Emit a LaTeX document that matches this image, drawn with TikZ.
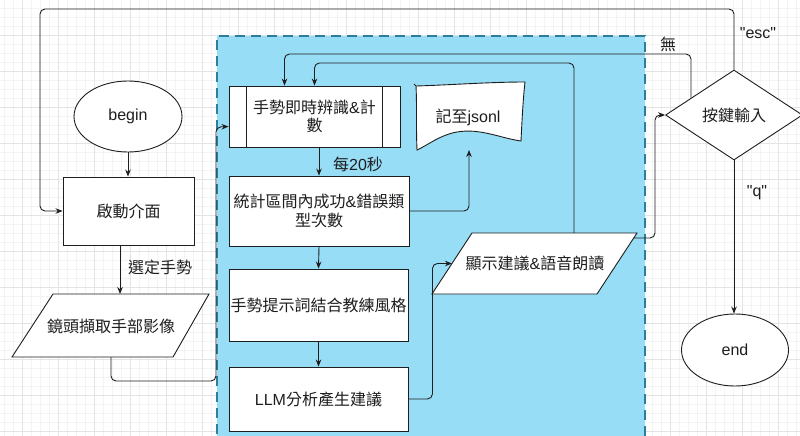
\documentclass[tikz,border=0pt]{standalone}
\usepackage{fontspec}
\setmainfont{Liberation Sans}
\newfontfamily\rawlat{Liberation Sans}
\newfontfamily\cjk{Noto Sans CJK TC}
\usetikzlibrary{arrows.meta,shapes.geometric,calc}
\definecolor{gridmaj}{RGB}{228,228,228}
\definecolor{gridmin}{RGB}{244,244,244}
\definecolor{bluebg}{RGB}{152,221,246}
\definecolor{blueedge}{RGB}{45,125,155}
\definecolor{ink}{RGB}{30,30,30}
\tikzset{
  txt/.style={text=ink, font=\fontsize{16}{18.5}\selectfont, inner sep=0pt, align=center},
  base/.style={txt, draw=ink, line width=0.9pt, fill=white},
  procbox/.style={base, rectangle, minimum width=#1},
  ovalnode/.style={base, ellipse, minimum width=108pt, minimum height=71pt},
  decide/.style={base, diamond, minimum width=137pt, minimum height=90pt},
  shapeline/.style={draw=ink, line width=0.9pt, fill=white},
  arr/.style={draw=ink, line width=0.9pt, -{Stealth[length=7pt,width=5.5pt]}, rounded corners=5pt},
  plainline/.style={draw=ink, line width=0.9pt},
  mingrid/.style={gridmin, line width=0.5pt},
  majgrid/.style={gridmaj, line width=0.6pt}
}
\begin{document}
\begin{tikzpicture}[x=1pt,y=-1pt]
\useasboundingbox (0,0) rectangle (800,436);
\begin{scope}
  \clip (0,0) rectangle (800,436);
  \fill[white] (0,0) rectangle (800,436);
  \foreach \i in {0,...,92} \draw[mingrid] ({-14+9*\i},0) -- ({-14+9*\i},436);
  \foreach \i in {0,...,50} \draw[mingrid] (0,{-1+9*\i}) -- (800,{-1+9*\i});
  \foreach \i in {0,...,23} \draw[majgrid] ({-14+36*\i},0) -- ({-14+36*\i},436);
  \foreach \i in {0,...,13} \draw[majgrid] (0,{-1+36*\i}) -- (800,{-1+36*\i});
  \fill[bluebg] (217,36) rectangle (645,450);
  \draw[blueedge, line width=2.6pt, dash pattern=on 10pt off 6pt] (217,450) -- (217,36) -- (645,36) -- (645,450);
\end{scope}

% left column
\node[ovalnode] (begin) at (128,116.5) {begin};
\node[procbox=131pt, minimum height=68pt] (start) at (128.5,211) {\cjk 啟動介面};
\coordinate (camTL) at (53,294);
\coordinate (camTR) at (209,294);
\coordinate (camBR) at (173,357);
\coordinate (camBL) at (12,357);
\draw[shapeline] (camTL) -- (camTR) -- (camBR) -- (camBL) -- cycle;
\node[txt] (cam) at (111,326) {\cjk 鏡頭擷取手部影像};
\coordinate (camB) at (111,357);

% middle column
\node[procbox=171pt, minimum height=61pt] (rec) at (314.5,116.5) {{\cjk 手勢即時辨識}\&{\cjk 計}\\{\cjk 數}};
\draw[plainline] ([xshift=18pt]rec.north west) -- ([xshift=18pt]rec.south west);
\draw[plainline] ([xshift=-18pt]rec.north east) -- ([xshift=-18pt]rec.south east);
\node[procbox=180pt, minimum height=70pt] (stat) at (319,211) {{\cjk 統計區間內成功}\&{\cjk 錯誤類}\\{\cjk 型次數}};
\node[procbox=179pt, minimum height=72pt] (prompt) at (318.5,305) {\cjk 手勢提示詞結合教練風格};
\node[procbox=179pt, minimum height=64pt] (llm) at (318.5,399) {LLM{\cjk 分析產生建議}};

% jsonl document shape
\draw[shapeline] (414,84) -- (416,86) .. controls (450,85) and (490,82) .. (525,82)
  .. controls (523,100) and (522,120) .. (521,141)
  .. controls (500,138) and (480,128) .. (457,132)
  .. controls (440,135) and (428,145) .. (417,150)
  .. controls (416,128) and (417,105) .. (416,86);
\node[txt] (jsonl) at (468,117) {{\cjk 記至}jsonl};
\coordinate (jin) at (469,150);

% display parallelogram
\coordinate (dTL) at (472,233);
\coordinate (dTR) at (637,233);
\coordinate (dBR) at (597,294);
\coordinate (dBL) at (432,294);
\draw[shapeline] (dTL) -- (dTR) -- (dBR) -- (dBL) -- cycle;
\node[txt] (disp) at (535,263.5) {{\cjk 顯示建議}\&{\cjk 語音朗讀}};
\coordinate (dL) at (452,263.5);
\coordinate (dT) at (574,233);
\coordinate (dR) at (634,238);

% right column
\node[decide] (key) at (734,115) {\cjk 按鍵輸入};
\coordinate (kE) at (691,97.5);
\node[ovalnode, minimum width=107pt, minimum height=72pt] (end) at (735,350) {end};

% connectors
\draw[arr] (begin.south) -- (begin.south |- start.north);
\draw[arr] ([xshift=-8.5pt]start.south) -- ([xshift=-8.5pt]start.south |- camTL);
\node[txt] (sel) at (160,267) {\cjk 選定手勢};
\draw[arr] (camB) -- (111,381) -- (216,381) -- (216,127) -- ([yshift=-10pt]rec.west);
\draw[arr] (rec.south -| stat.north) -- (stat.north);
\node[txt] (every) at (358,164) {{\cjk 每}20{\cjk 秒}};
\draw[arr] (stat.east) -| (jin);
\draw[arr] (stat.south) -- (prompt.north);
\draw[arr] (prompt.south) -- (llm.north);
\draw[arr] (llm.east) -- ++(24,0) |- (dL);
\draw[arr] (dT) -- (dT |- 0,63) -| (rec.north);
\draw[arr] (dR) -- (655,238) |- (key.west);
\draw[arr] (kE) -- (kE |- 0,54) -| ([xshift=-30pt]rec.north);
\node[txt] (none) at (668,44) {\cjk 無};
\draw[arr] (key.north) -- (key.north |- 0,9) -- (40,9) |- (start.west);
\node[txt] (esc) at (758,33) {\rawlat "esc"};
\draw[arr] (key.south) -- (key.south |- end.north);
\node[txt] (q) at (757,193) {\rawlat "q"};
\end{tikzpicture}
\end{document}
